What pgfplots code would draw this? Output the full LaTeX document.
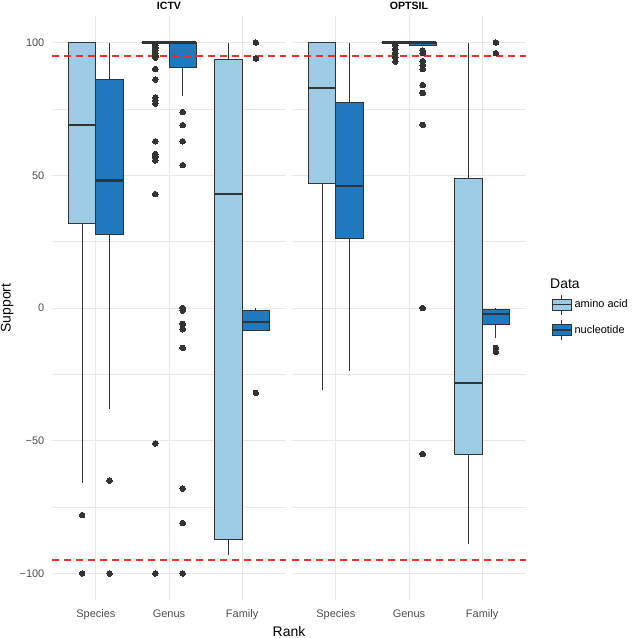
\documentclass[border=0pt]{standalone}
\usepackage{pgfplots}
\pgfplotsset{compat=1.18}
\usepgfplotslibrary{statistics}
\usepackage{fontspec}
\setmainfont{Liberation Sans}
\definecolor{aminoc}{HTML}{9DCAE4}
\definecolor{nucc}{HTML}{2079BD}
\definecolor{boxline}{HTML}{333333}
\definecolor{gridc}{HTML}{E8E8E8}
\definecolor{tickc}{HTML}{4D4D4D}
\definecolor{refred}{HTML}{E8312B}
\pgfplotsset{
  facet/.style={
    scale only axis, width=234bp, height=584bp,
    xmin=0.4, xmax=3.6, ymin=-110, ymax=110,
    xtick={1,2,3}, xticklabels={Species,Genus,Family},
    ytick={-100,-50,0,50,100}, minor ytick={-75,-25,25,75},
    grid=both,
    major grid style={gridc, line width=0.9bp},
    minor grid style={gridc, line width=0.5bp},
    axis line style={draw=none},
    major tick length=0pt, minor tick length=0pt,
    tick label style={font=\fontsize{11}{13}\selectfont, text=tickc},
    xticklabel style={anchor=base, inner sep=0pt, yshift=-17bp},
    yticklabel style={anchor=east, inner sep=0pt, xshift=-7.5bp},
    clip=false,
    boxplot/draw direction=y,
    boxplot/box extend=0.375,
    boxplot/whisker extend=0,
    boxplot/every median/.style={line width=2.2bp},
  },
  abox/.style={fill=aminoc, draw=boxline, line width=0.8bp},
  nbox/.style={fill=nucc, draw=boxline, line width=0.8bp},
  outl/.style={only marks, mark=*, mark size=2.8bp, mark options={fill=boxline, draw=boxline, line width=0pt}},
  refl/.style={draw=refred, color=refred, no marks, solid, line width=1.8bp, dash pattern=on 7bp off 5bp},
}
\begin{document}
\begin{tikzpicture}
\path[use as bounding box] (0,0) rectangle (633bp,638bp);
% ---------------- ICTV ----------------
\begin{axis}[facet, at={(52bp,38bp)}, anchor=south west,
  yticklabels={−100,−50,0,50,100}]
\addplot[abox, boxplot prepared={draw position=0.8125, lower whisker=-66, lower quartile=31.7, median=69, upper quartile=100, upper whisker=100}] coordinates {};
\addplot[nbox, boxplot prepared={draw position=1.1875, lower whisker=-38, lower quartile=27.8, median=48, upper quartile=86, upper whisker=100}] coordinates {};
\addplot[abox, boxplot prepared={draw position=1.8125, lower whisker=100, lower quartile=100, median=100, upper quartile=100, upper whisker=100}] coordinates {};
\addplot[nbox, boxplot prepared={draw position=2.1875, lower whisker=80, lower quartile=90.7, median=100, upper quartile=100, upper whisker=100}] coordinates {};
\addplot[abox, boxplot prepared={draw position=2.8125, lower whisker=-93, lower quartile=-87.2, median=43, upper quartile=93.8, upper whisker=100}] coordinates {};
\addplot[nbox, boxplot prepared={draw position=3.1875, lower whisker=-8.3, lower quartile=-8.3, median=-5.3, upper quartile=-0.75, upper whisker=0}] coordinates {};
\addplot[outl] coordinates {
 (0.8125,-78) (0.8125,-100)
 (1.1875,-65) (1.1875,-100)
 (1.8125,99) (1.8125,98) (1.8125,97) (1.8125,96) (1.8125,95) (1.8125,94.3)
 (1.8125,90) (1.8125,86) (1.8125,79.2) (1.8125,78.2) (1.8125,77) (1.8125,62.8)
 (1.8125,58) (1.8125,56.9) (1.8125,55.6) (1.8125,42.9) (1.8125,-51) (1.8125,-100)
 (2.1875,73.8) (2.1875,68.9) (2.1875,62.8) (2.1875,53.8) (2.1875,0) (2.1875,-1)
 (2.1875,-6) (2.1875,-8) (2.1875,-15) (2.1875,-68) (2.1875,-81) (2.1875,-100)
 (3.1875,100) (3.1875,94) (3.1875,-32)
};
\addplot[refl] table[row sep=\\] {x y\\ 0.4 -95\\ 3.6 -95\\};
\addplot[refl] table[row sep=\\] {x y\\ 0.4 95\\ 3.6 95\\};
\node[anchor=base, inner sep=0pt, yshift=6.7bp, font=\bfseries\fontsize{10.6}{12}\selectfont] at (rel axis cs:0.5,1) {ICTV};
\end{axis}
% ---------------- OPTSIL ----------------
\begin{axis}[facet, at={(292bp,38bp)}, anchor=south west,
  yticklabels={},
  legend style={at={(rel axis cs:1.1075,0.5235)}, anchor=north west, draw=none, fill=none,
    inner sep=0pt, outer sep=0pt, row sep=4.5bp, column sep=3bp,
    nodes={inner sep=0pt, anchor=west}, font=\fontsize{11}{13}\selectfont},
  legend cell align=left]
\addlegendimage{legend image code/.code={
  \draw[boxline, line width=0.8bp] (9.5bp,-10bp) -- (9.5bp,10bp);
  \draw[fill=aminoc, draw=boxline, line width=0.8bp] (0bp,-5.5bp) rectangle (19bp,5.5bp);
  \draw[boxline, line width=1.5bp] (0bp,0bp) -- (19bp,0bp);
}}
\addlegendentry{amino acid}
\addlegendimage{legend image code/.code={
  \draw[boxline, line width=0.8bp] (9.5bp,-10bp) -- (9.5bp,10bp);
  \draw[fill=nucc, draw=boxline, line width=0.8bp] (0bp,-5.5bp) rectangle (19bp,5.5bp);
  \draw[boxline, line width=1.5bp] (0bp,0bp) -- (19bp,0bp);
}}
\addlegendentry{nucleotide}
\addplot[abox, boxplot prepared={draw position=0.8125, lower whisker=-30.8, lower quartile=47, median=83, upper quartile=100, upper whisker=100}] coordinates {};
\addplot[nbox, boxplot prepared={draw position=1.1875, lower whisker=-23.8, lower quartile=26.3, median=46, upper quartile=77.6, upper whisker=100}] coordinates {};
\addplot[abox, boxplot prepared={draw position=1.8125, lower whisker=100, lower quartile=100, median=100, upper quartile=100, upper whisker=100}] coordinates {};
\addplot[nbox, boxplot prepared={draw position=2.1875, lower whisker=99, lower quartile=99, median=100, upper quartile=100, upper whisker=100}] coordinates {};
\addplot[abox, boxplot prepared={draw position=2.8125, lower whisker=-89, lower quartile=-55.3, median=-28.3, upper quartile=48.7, upper whisker=100}] coordinates {};
\addplot[nbox, boxplot prepared={draw position=3.1875, lower whisker=-11.4, lower quartile=-6.2, median=-2.4, upper quartile=-0.5, upper whisker=0}] coordinates {};
\addplot[outl] coordinates {
 (1.8125,99) (1.8125,97.5) (1.8125,96) (1.8125,94.5) (1.8125,92.8)
 (2.1875,97) (2.1875,96) (2.1875,93) (2.1875,91.5) (2.1875,90) (2.1875,84)
 (2.1875,81) (2.1875,69) (2.1875,0) (2.1875,-55)
 (3.1875,100) (3.1875,96) (3.1875,-15) (3.1875,-16.5)
};
\addplot[refl] table[row sep=\\] {x y\\ 0.4 -95\\ 3.6 -95\\};
\addplot[refl] table[row sep=\\] {x y\\ 0.4 95\\ 3.6 95\\};
\node[anchor=base, inner sep=0pt, yshift=6.7bp, font=\bfseries\fontsize{10.6}{12}\selectfont] at (rel axis cs:0.5,1) {OPTSIL};
\end{axis}
% ---------------- titles ----------------
\node[rotate=90, anchor=base, font=\fontsize{14}{16}\selectfont, inner sep=0pt] at (10.5bp,330bp) {Support};
\node[anchor=base, font=\fontsize{14}{16}\selectfont, inner sep=0pt] at (289bp,2bp) {Rank};
\node[anchor=base west, font=\fontsize{14}{16}\selectfont, inner sep=0pt] at (550bp,349.7bp) {Data};
\end{tikzpicture}
\end{document}
